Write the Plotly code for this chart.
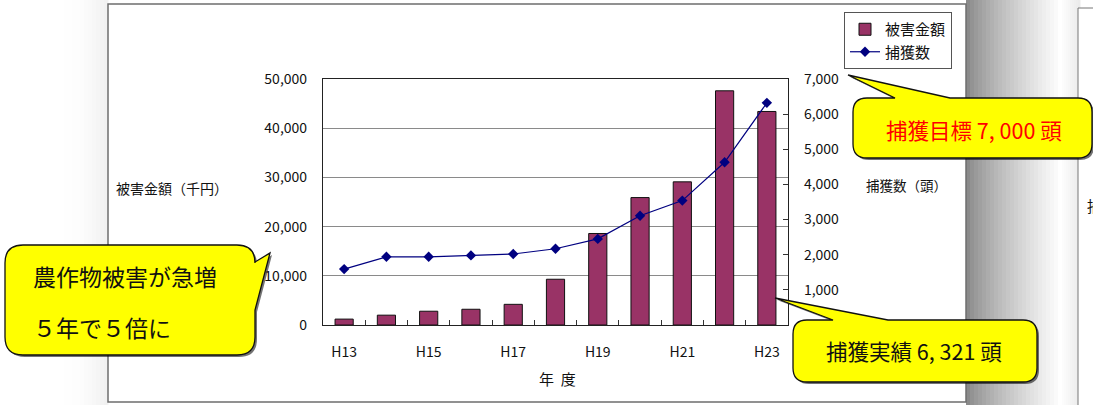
import plotly.graph_objects as go

W, H = 1093, 405

years = ["H13", "H14", "H15", "H16", "H17", "H18", "H19", "H20", "H21", "H22", "H23"]
tick_labels = ["H13", "", "H15", "", "H17", "", "H19", "", "H21", "", "H23"]
damage = [1200, 2000, 2800, 3200, 4200, 9300, 18600, 25900, 29100, 47600, 43400]
captures = [1590, 1940, 1940, 1980, 2020, 2170, 2450, 3110, 3540, 4630, 6321]

FONT = "Noto Sans CJK JP"


def fx(x):
    return x / W


def fy(y):
    return 1 - y / H


def pt(x, y):
    return f"{fx(x):.5f},{fy(y):.5f}"


def callout_top(x0, y0, x1, y1, r, b0, tip, b1):
    p = f"M {pt(x0 + r, y0)} L {pt(b0, y0)} L {pt(*tip)} L {pt(b1, y0)} L {pt(x1 - r, y0)} "
    p += f"Q {pt(x1, y0)} {pt(x1, y0 + r)} L {pt(x1, y1 - r)} Q {pt(x1, y1)} {pt(x1 - r, y1)} "
    p += f"L {pt(x0 + r, y1)} Q {pt(x0, y1)} {pt(x0, y1 - r)} L {pt(x0, y0 + r)} Q {pt(x0, y0)} {pt(x0 + r, y0)} Z"
    return p


def callout_right(x0, y0, x1, y1, r, b0, tip, b1):
    p = f"M {pt(x0 + r, y0)} L {pt(x1 - r, y0)} Q {pt(x1, y0)} {pt(x1, y0 + r)} "
    p += f"L {pt(x1, b0)} L {pt(*tip)} L {pt(x1, b1)} L {pt(x1, y1 - r)} Q {pt(x1, y1)} {pt(x1 - r, y1)} "
    p += f"L {pt(x0 + r, y1)} Q {pt(x0, y1)} {pt(x0, y1 - r)} L {pt(x0, y0 + r)} Q {pt(x0, y0)} {pt(x0 + r, y0)} Z"
    return p


fig = go.Figure()
fig.add_trace(go.Bar(
    x=years, y=damage, name="被害金額",
    marker=dict(color="#993366", line=dict(color="#111111", width=1)),
    yaxis="y",
))
fig.add_trace(go.Scatter(
    x=years, y=captures, name="捕獲数", mode="lines+markers",
    line=dict(color="#000080", width=1.2),
    marker=dict(symbol="diamond", size=8, color="#000080"),
    yaxis="y2",
))

shapes = []
n = 24
for i in range(n):
    xa = 966 + i * 4
    g = int(0x8a + (255 - 0x8a) * (i / (n - 1)) ** 0.8)
    shapes.append(dict(type="rect", xref="paper", yref="paper", x0=fx(xa), x1=fx(xa + 4.5),
                       y0=0, y1=1, line=dict(width=0), fillcolor=f"rgb({g},{g},{g})", layer="below"))
for i in range(10):
    xa = 1060 + i * 2
    g = int(255 - 20 * (i / 9))
    shapes.append(dict(type="rect", xref="paper", yref="paper", x0=fx(xa), x1=fx(xa + 2.5),
                       y0=0, y1=1, line=dict(width=0), fillcolor=f"rgb({g},{g},{g})", layer="below"))
for i in range(12):
    xa = 60 + i * 4
    g = int(255 - 14 * (i / 11) ** 2)
    shapes.append(dict(type="rect", xref="paper", yref="paper", x0=fx(xa), x1=fx(xa + 4.5),
                       y0=0, y1=1, line=dict(width=0), fillcolor=f"rgb({g},{g},{g})", layer="below"))
shapes.append(dict(type="rect", xref="paper", yref="paper", x0=fx(1078), x1=fx(1100),
                   y0=fy(410), y1=fy(8), line=dict(color="#777777", width=1), fillcolor="white", layer="below"))
shapes.append(dict(type="rect", xref="paper", yref="paper", x0=fx(108), x1=fx(966),
                   y0=fy(402), y1=fy(4), line=dict(color="#6e6e6e", width=1.5), fillcolor="white", layer="below"))

c1 = (853, 98, 1092, 158, 14, 895, (848, 75), 950)
c2 = (5, 245, 255, 355, 18, 262, (270, 253), 310)
c3 = (793, 320, 1037, 382, 14, 833, (775, 298), 888)
for fn, c in [(callout_top, c1), (callout_right, c2), (callout_top, c3)]:
    x0, y0, x1, y1, r, b0, tip, b1 = c
    sh = fn(x0 + 2, y0 + 2, x1 + 2, y1 + 2, r, b0 + 2, (tip[0] + 2, tip[1] + 2), b1 + 2)
    shapes.append(dict(type="path", xref="paper", yref="paper", path=sh,
                       fillcolor="rgba(0,0,0,0.55)", line=dict(width=0), layer="above"))
    shapes.append(dict(type="path", xref="paper", yref="paper", path=fn(*c),
                       fillcolor="#ffff00", line=dict(color="#111111", width=1.3), layer="above"))


def ann(x, y, text, size, color="#111", xanchor="center"):
    return dict(x=fx(x), y=fy(y), text=text, showarrow=False, xref="paper", yref="paper",
                xanchor=xanchor, yanchor="middle",
                font=dict(size=size, color=color, family=FONT))


annotations = [
    ann(172, 188, "被害金額（千円）", 14),
    ann(906, 185, "捕獲数（頭）", 13.5),
    ann(557, 378, "年  度", 15),
    ann(974, 129, "捕獲目標 7, 000 頭", 21.5, "#ff0000"),
    ann(914, 350, "捕獲実績 6, 321 頭", 21.5),
    ann(31, 276, "農作物被害が急増", 23, xanchor="left"),
    ann(31, 327, "５年で５倍に", 23, xanchor="left"),
    ann(1085, 205, "捕", 15, xanchor="left"),
]

fig.update_layout(
    width=W, height=H,
    margin=dict(l=0, r=0, t=0, b=0, autoexpand=False),
    paper_bgcolor="white", plot_bgcolor="white",
    font=dict(family=FONT, size=14, color="#111"),
    bargap=0.57,
    showlegend=True,
    legend=dict(x=fx(844), y=fy(12), xanchor="left", yanchor="top",
                bgcolor="white", bordercolor="#555", borderwidth=1,
                font=dict(size=15, family=FONT), itemwidth=30, tracegroupgap=0),
    xaxis=dict(domain=[fx(323), fx(788)], type="category", range=[-0.5, 10.5],
               tickmode="array", tickvals=years, ticktext=tick_labels,
               tickson="boundaries", ticks="inside", ticklen=5, tickcolor="#333",
               showline=True, linecolor="#222", linewidth=1.2, mirror=True,
               showgrid=False, ticklabelstandoff=14, automargin=False,
               tickfont=dict(size=14, family=FONT)),
    yaxis=dict(domain=[fy(325), fy(79)], range=[0, 50000], dtick=10000, tickformat=",",
               showgrid=True, gridcolor="#8a8a8a", gridwidth=1, zeroline=False,
               showline=True, linecolor="#222", linewidth=1.2, ticks="", automargin=False,
               ticklabelstandoff=12, tickfont=dict(size=14, family=FONT)),
    yaxis2=dict(domain=[fy(325), fy(79)], range=[0, 7000], dtick=1000, tickformat=",",
                overlaying="y", side="right", anchor="x", showgrid=False, zeroline=False,
                showline=True, linecolor="#222", linewidth=1.2, ticks="inside", ticklen=5,
                tickcolor="#333", ticklabelstandoff=12, automargin=False,
                tickfont=dict(size=14, family=FONT)),
    shapes=shapes,
    annotations=annotations,
)

fig.write_html("out.html")
